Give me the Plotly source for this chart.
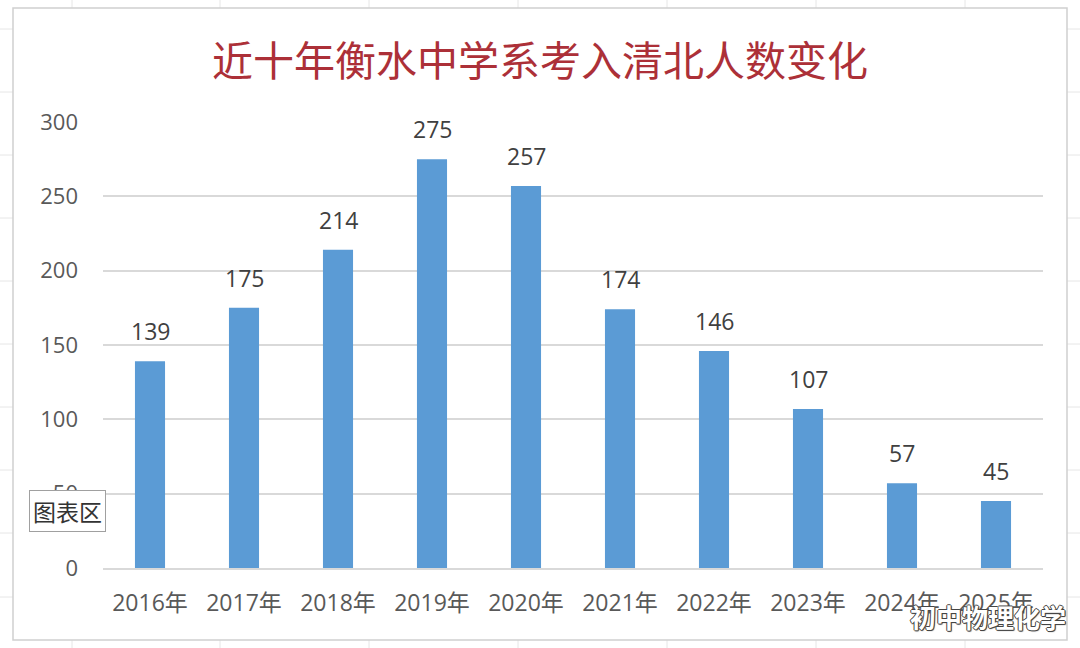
import plotly.graph_objects as go

years = ["2016年", "2017年", "2018年", "2019年", "2020年", "2021年", "2022年", "2023年", "2024年", "2025年"]
counts = [139, 175, 214, 275, 257, 174, 146, 107, 57, 45]
title_text = "近十年衡水中学系考入清北人数变化"
y_ticks = [0, 50, 100, 150, 200, 250, 300]

CJK = "Noto Sans CJK SC, sans-serif"
NUM = "Open Sans, Noto Sans CJK SC, sans-serif"

W, H = 1080, 648
L, R, T, B = 103, 37, 122, 80
pw, ph = W - L - R, H - T - B

def px(x):
    return (x - L) / pw

def py(y):
    return (H - B - y) / ph

fig = go.Figure()
fig.add_trace(go.Bar(
    x=years, y=counts,
    marker=dict(color="#5B9BD5", line=dict(width=0)),
    hoverinfo="x+y",
))

annotations = []
for yr, v in zip(years, counts):
    annotations.append(dict(
        x=yr, y=v, xref="x", yref="y", text=str(v), showarrow=False,
        yanchor="bottom", yshift=12,
        font=dict(family=NUM, size=23, color="#404040"),
    ))

# title
annotations.append(dict(
    x=px(540), y=py(58), xref="paper", yref="paper", text=title_text, showarrow=False,
    font=dict(family=CJK, size=41, color="#AC3038"),
    yanchor="middle", xanchor="center",
))
# tooltip box
annotations.append(dict(
    x=px(29), y=py(511), xref="paper", yref="paper", text="图表区", showarrow=False,
    font=dict(family=CJK, size=23, color="#333333"),
    bgcolor="white", bordercolor="#a0a0a0", borderwidth=1, borderpad=3,
    xanchor="left", yanchor="middle",
))
# watermark
annotations.append(dict(
    x=px(1068), y=py(616), xref="paper", yref="paper", text="初中物理化学", showarrow=False,
    font=dict(family=CJK, size=26, color="white", weight=700,
              shadow="1px 0px 0px #444, -1px 0px 0px #444, 0px 1px 0px #444, 0px -1px 0px #444, 1px 1px 1px #444"),
    xanchor="right", yanchor="middle",
))

shapes = []
# faint spreadsheet grid outside chart frame
for xc in [72, 220, 369, 518, 667, 816, 965]:
    shapes.append(dict(type="line", xref="paper", yref="paper", x0=px(xc), x1=px(xc),
                       y0=py(640), y1=py(648), line=dict(color="#e6e6e6", width=1), layer="below"))
    shapes.append(dict(type="line", xref="paper", yref="paper", x0=px(xc), x1=px(xc),
                       y0=py(0), y1=py(8), line=dict(color="#e6e6e6", width=1), layer="below"))
for yc in [470, 533, 597, 407, 344, 281, 218, 155, 92, 29]:
    shapes.append(dict(type="line", xref="paper", yref="paper", x0=px(0), x1=px(13),
                       y0=py(yc), y1=py(yc), line=dict(color="#e6e6e6", width=1), layer="below"))
    shapes.append(dict(type="line", xref="paper", yref="paper", x0=px(1067), x1=px(1080),
                       y0=py(yc), y1=py(yc), line=dict(color="#e6e6e6", width=1), layer="below"))
# chart frame
shapes.append(dict(type="rect", xref="paper", yref="paper", x0=px(13), x1=px(1067),
                   y0=py(640), y1=py(8), line=dict(color="#d0d0d0", width=1.5),
                   fillcolor="rgba(0,0,0,0)", layer="below"))

fig.update_layout(
    width=W, height=H,
    margin=dict(l=L, r=R, t=T, b=B, autoexpand=False),
    paper_bgcolor="white", plot_bgcolor="white",
    bargap=0.68,
    showlegend=False,
    annotations=annotations,
    shapes=shapes,
    font=dict(family=NUM, color="#595959"),
    xaxis=dict(
        type="category", showgrid=False, showline=True, linecolor="#d9d9d9", linewidth=1.5,
        ticks="", tickfont=dict(family=NUM, size=23, color="#595959"),
        ticklabelstandoff=14,
    ),
    yaxis=dict(
        range=[0, 300], tickvals=y_ticks, showgrid=True, gridcolor="#d9d9d9", gridwidth=1.5,
        zeroline=False, showline=False, ticks="",
        tickfont=dict(family=NUM, size=22, color="#595959"),
        ticklabelstandoff=24,
    ),
)

fig.write_html("out.html", config={"displayModeBar": False},
               post_script="document.body.style.margin='0';")
